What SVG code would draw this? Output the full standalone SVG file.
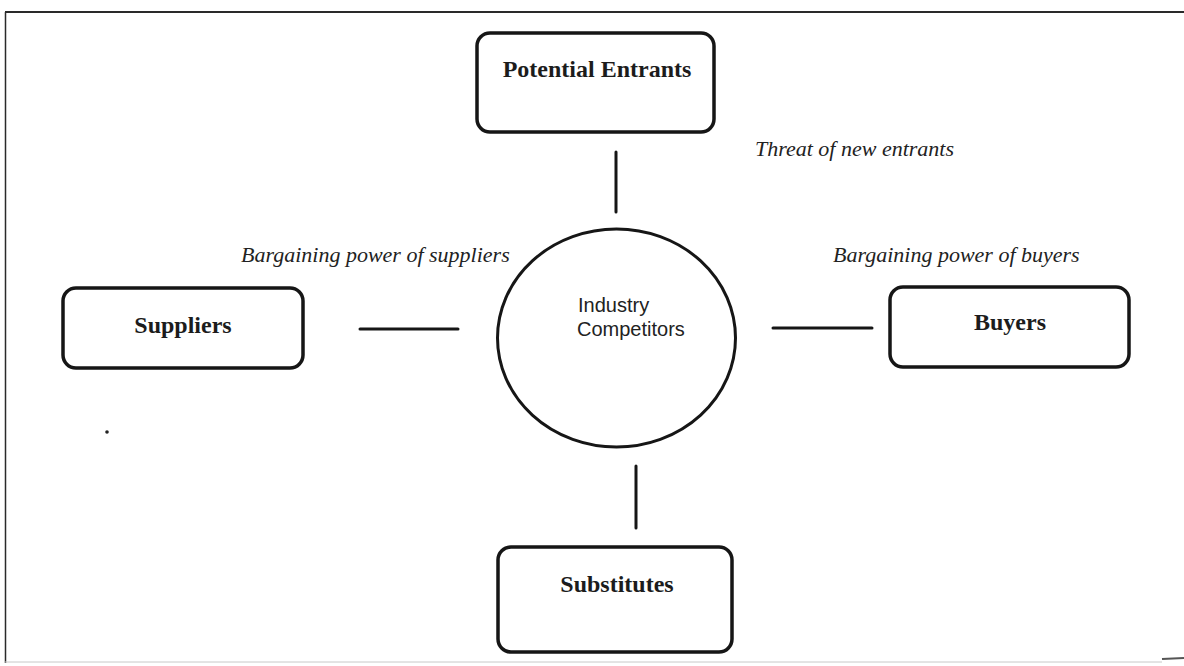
<svg xmlns="http://www.w3.org/2000/svg" width="1184" height="666" viewBox="0 0 1184 666">
  <style>
    .box { fill: #ffffff; stroke: #161616; stroke-width: 3.5; }
    .hub { fill: #ffffff; stroke: #161616; stroke-width: 3; }
    .link { stroke: #161616; stroke-width: 3; stroke-linecap: round; fill: none; }
    .frame { stroke: #2a2a2a; fill: none; }
    .title { font-family: "Liberation Serif", "Times New Roman", serif; font-weight: bold; font-size: 24px; fill: #1c1c1c; text-anchor: middle; }
    .force { font-family: "Liberation Serif", "Times New Roman", serif; font-style: italic; font-size: 22px; fill: #222222; }
    .hubtext { font-family: "Liberation Sans", Arial, sans-serif; font-size: 20px; fill: #222222; }
  </style>

  <rect width="1184" height="666" fill="#ffffff"/>

  <!-- outer frame -->
  <g id="frame">
    <line class="frame" x1="5" y1="12" x2="1184" y2="12" stroke-width="2"/>
    <line class="frame" x1="5.5" y1="12" x2="5.5" y2="663" stroke-width="1.5"/>
    <line x1="5" y1="662" x2="1162" y2="662" stroke="#c8c8c8" stroke-width="1"/>
    <line x1="1162" y1="659" x2="1184" y2="658" stroke="#555555" stroke-width="2"/>
  </g>

  <!-- connectors between the forces and the central ring -->
  <g id="connectors">
    <line class="link" x1="616" y1="152" x2="616" y2="212"/>
    <line class="link" x1="360" y1="329" x2="458" y2="329"/>
    <line class="link" x1="773" y1="328" x2="872" y2="328"/>
    <line class="link" x1="636" y1="466" x2="636" y2="528"/>
  </g>

  <g id="node-potential-entrants">
    <rect class="box" x="477" y="33" width="237" height="99" rx="13"/>
    <text class="title" x="597" y="77">Potential Entrants</text>
  </g>

  <g id="node-suppliers">
    <rect class="box" x="63" y="288" width="240" height="80" rx="13"/>
    <text class="title" x="183" y="333">Suppliers</text>
  </g>

  <g id="node-industry-competitors">
    <ellipse class="hub" cx="616.5" cy="338" rx="119" ry="109"/>
    <text class="hubtext" x="578" y="312">Industry</text>
    <text class="hubtext" x="577" y="336">Competitors</text>
  </g>

  <g id="node-buyers">
    <rect class="box" x="890" y="287" width="239" height="80" rx="13"/>
    <text class="title" x="1010" y="330">Buyers</text>
  </g>

  <g id="node-substitutes">
    <rect class="box" x="498" y="547" width="234" height="105" rx="13"/>
    <text class="title" x="617" y="592">Substitutes</text>
  </g>

  <!-- force labels -->
  <g id="labels">
    <text class="force" x="755" y="156">Threat of new entrants</text>
    <text class="force" x="241" y="262">Bargaining power of suppliers</text>
    <text class="force" x="833" y="262">Bargaining power of buyers</text>
  </g>

  <!-- stray speck -->
  <circle cx="107" cy="432" r="1.8" fill="#222222"/>
</svg>
